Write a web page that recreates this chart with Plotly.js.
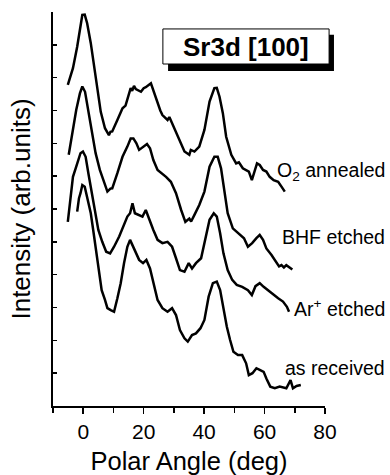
<!DOCTYPE html>
<html>
<head>
<meta charset="utf-8">
<script src="https://cdn.plot.ly/plotly-3.0.1.min.js"></script>
<style>html,body{margin:0;padding:0;background:#fff;}#chart{width:390px;height:475px;}</style>
</head>
<body>
<div id="chart"></div>
<script>
// O2 annealed
const xO2 = [-5.1,-4.2,-3.4,-2.0,-0.9,-0.3,0.5,1.3,2.5,3.6,4.7,5.8,7.2,8.5,9.0,9.6,11.3,13.0,14.0,14.6,15.7,16.2,16.8,17.4,17.9,19.1,20.0,20.7,22.4,23.5,24.9,25.5,26.2,27.9,28.5,29.4,30.7,32.4,33.5,35.1,35.6,36.8,38.4,40.1,41.8,43.4,44.2,45.1,46.2,47.3,49.0,50.6,51.5,52.8,54.8,55.8,56.7,57.5,58.4,59.5,60.6,61.7,63.0,64.5,65.6,66.7];
const yO2 = [9.78,10.05,10.29,10.94,11.55,11.91,11.92,11.66,11.05,10.39,9.63,8.96,8.46,8.25,8.35,8.36,8.71,9.07,9.15,9.32,9.68,9.6,9.75,9.65,9.63,9.57,9.68,9.71,9.83,9.52,9.12,9.0,8.86,8.71,8.8,8.61,8.31,8.0,7.75,7.65,7.8,7.75,7.9,8.41,9.27,9.68,9.69,9.42,8.92,8.2,7.65,7.39,7.42,7.24,7.14,6.88,7.14,7.39,7.34,7.19,7.14,6.98,6.88,6.83,6.68,6.53];
// BHF etched
const xBHF = [-4.8,-3.7,-2.3,-1.1,-0.3,0.6,1.7,3.0,4.1,5.5,6.9,8.0,9.0,9.6,11.3,13.0,14.6,15.7,16.6,17.6,18.5,19.8,21.1,22.1,23.2,24.6,26.0,27.4,29.0,30.7,32.4,33.8,35.1,35.7,36.8,38.4,40.1,41.8,43.4,44.5,45.6,46.7,47.8,49.5,51.2,53.2,54.5,55.9,57.3,58.4,59.5,60.6,62.3,63.9,64.8,65.6,66.4,67.2,69.2];
const yBHF = [7.65,8.31,9.02,9.52,9.73,9.57,9.02,8.31,7.7,7.19,6.83,6.53,6.62,6.63,7.09,7.59,7.9,8.15,8.15,8.0,7.8,7.9,7.98,7.85,7.49,7.19,7.09,6.98,6.83,6.48,5.97,5.61,5.71,5.62,5.82,6.12,6.53,7.29,7.59,7.59,7.24,6.58,5.87,5.41,5.26,5.11,4.85,4.96,5.11,5.21,5.06,4.8,4.6,4.35,4.25,4.29,4.22,4.29,4.16];
// Ar+ etched
const xAr = [-5.1,-4.2,-3.4,-2.5,-1.9,-0.9,-0.1,0.8,1.7,2.8,3.9,5.0,6.3,7.6,8.9,10.2,11.9,13.2,14.6,15.5,16.3,17.1,18.3,19.6,20.7,21.8,23.2,24.6,26.2,27.9,29.4,30.7,32.0,33.5,34.9,36.0,37.3,39.0,40.4,41.8,43.2,44.2,45.3,46.4,47.8,49.3,50.8,52.6,54.5,55.8,57.0,58.4,59.7,61.1,62.8,64.5,66.1,67.4,68.1];
const yAr = [5.61,6.27,6.98,7.24,7.39,7.7,7.75,7.59,7.09,6.48,5.87,5.36,5.0,4.7,4.65,4.85,5.16,5.46,5.77,5.87,6.17,5.87,5.82,5.77,5.97,5.67,5.36,5.06,4.96,5.0,4.85,4.5,4.14,4.09,4.35,4.19,4.35,4.5,5.06,5.67,5.87,5.77,5.26,4.65,4.14,3.84,3.69,3.63,3.53,3.38,3.65,3.74,3.63,3.53,3.38,3.28,3.18,3.02,2.87];
// as received
const xAR = [-2.0,-1.4,-0.9,-0.3,0.5,1.3,2.5,3.3,4.3,5.2,6.1,7.2,8.0,9.1,10.2,11.3,12.4,13.5,14.6,15.5,16.3,17.4,18.5,19.8,20.9,22.1,23.2,24.6,26.2,27.9,29.4,30.7,32.0,33.5,34.6,36.0,37.3,38.8,40.1,41.5,42.9,44.2,45.3,46.4,47.5,48.6,49.7,51.2,52.6,53.9,54.8,56.0,57.3,58.4,59.7,60.6,61.9,63.4,65.0,67.2,68.6,69.4,70.6,72.0];
const yAR = [5.92,6.33,6.48,6.73,6.68,6.33,5.87,5.36,4.65,4.04,3.53,3.23,2.98,2.92,2.87,3.28,3.74,4.35,4.85,5.06,4.9,4.65,4.45,4.35,4.45,4.19,3.74,3.23,2.98,2.87,2.98,2.77,2.31,2.06,1.96,2.16,2.21,2.37,2.62,3.33,3.74,3.79,3.53,2.92,2.42,2.01,1.65,1.55,1.55,1.3,0.94,1.0,1.15,1.1,1.04,0.84,0.59,0.54,0.59,0.54,0.79,0.54,0.61,0.64];

const seriesNames = ['O<sub>2</sub> annealed','BHF etched','Ar<sup>+</sup> etched','as received'];
const labelY = [0.596,0.429,0.249,0.096];
const xTickVals = [0,20,40,60,80];
const xTickText = ['0','20','40','60','80'];
const boxTitle = 'Sr3d [100]';

const FONT = 'Liberation Sans, Arial, Helvetica, sans-serif';
const xs = [xO2,xBHF,xAr,xAR];
const ys = [yO2,yBHF,yAr,yAR];
const traces = xs.map((x,i)=>({x:x,y:ys[i],type:'scatter',mode:'lines',
  line:{color:'#000',width:2.5},name:seriesNames[i],showlegend:false,hoverinfo:'skip'}));

const annotations = seriesNames.map((n,i)=>({xref:'paper',yref:'paper',x:1.228,y:labelY[i],
  xanchor:'right',yanchor:'middle',text:n,showarrow:false,font:{family:FONT,size:19.5,color:'#000'}}));
annotations.push({xref:'paper',yref:'paper',x:0.71,y:0.912,xanchor:'center',yanchor:'middle',
  text:'<b>'+boxTitle+'</b>',showarrow:false,font:{family:FONT,size:26,color:'#000'}});

const layout = {
  width:390,height:475,
  margin:{l:53,r:65,t:12,b:69},
  paper_bgcolor:'#fff',plot_bgcolor:'#fff',
  font:{family:FONT,color:'#000'},
  showlegend:false,
  xaxis:{range:[-10,80],tickmode:'array',tickvals:xTickVals,ticktext:xTickText,
    ticks:'outside',ticklen:6,tickwidth:1.5,tickcolor:'#000',
    minor:{dtick:10,tick0:0,ticks:'outside',ticklen:5,tickwidth:1.5,tickcolor:'#000'},
    showline:true,linecolor:'#000',linewidth:2,showgrid:false,zeroline:false,
    tickfont:{family:FONT,size:21,color:'#000'},
    title:{text:'Polar Angle (deg)',font:{family:FONT,size:25.5,color:'#000'},standoff:12}},
  yaxis:{range:[0,12],dtick:1,tick0:0,ticks:'inside',ticklen:4,tickwidth:1.5,tickcolor:'#000',
    showticklabels:false,showline:true,linecolor:'#000',linewidth:2,showgrid:false,zeroline:false,
    title:{text:'Intensity (arb.units)',font:{family:FONT,size:26,color:'#000'},standoff:13}},
  shapes:[
    {type:'rect',xref:'paper',yref:'paper',x0:0.423,x1:1.033,y0:0.850,y1:0.942,
      fillcolor:'#000',line:{width:0},layer:'above'},
    {type:'rect',xref:'paper',yref:'paper',x0:0.404,x1:1.015,y0:0.868,y1:0.957,
      fillcolor:'#fff',line:{color:'#000',width:1},layer:'above'}
  ],
  annotations:annotations
};
Plotly.newPlot('chart',traces,layout,{staticPlot:true,displayModeBar:false});
</script>
</body>
</html>
